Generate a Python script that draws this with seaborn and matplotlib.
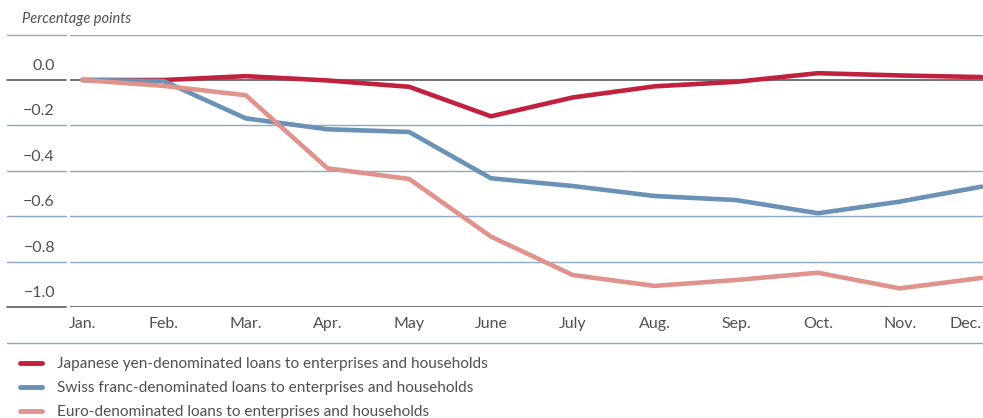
import numpy as np
import pandas as pd
import matplotlib
matplotlib.use('Agg')
import matplotlib.pyplot as plt
import matplotlib.transforms as mtransforms
from matplotlib.lines import Line2D
import seaborn as sns

MESES = ['Jan.', 'Feb.', 'Mar.', 'Apr.', 'May', 'June', 'July', 'Aug.', 'Sep.', 'Oct.', 'Nov.', 'Dec.']
YEN = [0.0, 0.0, 0.017, -0.002, -0.03, -0.16, -0.077, -0.028, -0.008, 0.03, 0.02, 0.013]
CHF = [0.0, -0.005, -0.169, -0.217, -0.229, -0.433, -0.467, -0.511, -0.529, -0.587, -0.536, -0.47]
EUR = [0.0, -0.026, -0.067, -0.389, -0.436, -0.69, -0.859, -0.907, -0.881, -0.849, -0.918, -0.872]
SERIES = ['Japanese yen-denominated loans to enterprises and households',
          'Swiss franc-denominated loans to enterprises and households',
          'Euro-denominated loans to enterprises and households']
COLORES = ['#C0213F', '#6A91B6', '#E0938C']
YTICKS = [0.0, -0.2, -0.4, -0.6, -0.8, -1.0]

# ── Datos en formato largo ─────────────────────────────────────
df = pd.DataFrame({
    'mes': list(range(len(MESES))) * 3,
    'valor': YEN + CHF + EUR,
    'serie': [SERIES[0]] * 12 + [SERIES[1]] * 12 + [SERIES[2]] * 12,
})

sns.set_style('white')
plt.rcParams['font.family'] = ['Lato', 'DejaVu Sans']
TXT = '#505050'
GRID = '#8BA8CA'
DARK = '#686868'

W, H = 983, 418
fig = plt.figure(figsize=(W / 100, H / 100), dpi=100)
ax = fig.add_axes([70 / W, 1 - 307 / H, 1 - 70 / W, (307 - 34.6) / H])

# ── Rejilla ───────────────────────────────────────────────────
trans = mtransforms.blended_transform_factory(fig.transFigure, ax.transData)
for v in [0.2, -0.2, -0.4, -0.6, -0.8]:
    ax.axhline(v, color=GRID, lw=1.0, zorder=1)
    ax.add_line(Line2D([7 / W, 66 / W], [v, v], transform=trans, color=GRID, lw=1.0, clip_on=False))
for v in [0.0, -1.0]:
    ax.axhline(v, color=DARK, lw=1.3, zorder=1)
    ax.add_line(Line2D([7 / W, 66 / W], [v, v], transform=trans, color=DARK, lw=1.3, clip_on=False))

sns.lineplot(data=df, x='mes', y='valor', hue='serie', hue_order=SERIES,
             palette=COLORES, linewidth=3.3, ax=ax, legend=False, zorder=3)

ax.set_xlim(-0.15, 11.02)
ax.set_ylim(-1.0, 0.2)
for s in ax.spines.values():
    s.set_visible(False)
ax.set_xlabel('')
ax.set_ylabel('')
ax.set_yticks([])
ax.set_xticks(range(len(MESES)))
ax.set_xticklabels(MESES, color=TXT, fontsize=11.5)
ax.tick_params(axis='x', direction='in', length=6, width=1.2, color=DARK, pad=7)
ax.get_xticklabels()[-1].set_ha('right')

# ── Etiquetas del eje y ───────────────────────────────────────
for v in YTICKS:
    etiqueta = f'{v:.1f}'.replace('-', '\u2212')
    ax.annotate(etiqueta, xy=(55 / W, v), xycoords=('figure fraction', 'data'),
                xytext=(0, 5), textcoords='offset points',
                ha='right', va='bottom', fontsize=11.5, color=TXT)

fig.text(22 / W, 1 - 19 / H, 'Percentage points', fontsize=10.5, style='italic',
         color=TXT, va='center', ha='left')

# ── Leyenda ───────────────────────────────────────────────────
fig.add_artist(Line2D([7 / W, 1.0], [1 - 343 / H] * 2, color=GRID, lw=1.0))
handles = [Line2D([], [], color=c, lw=3.5, solid_capstyle='round') for c in COLORES]
fig.legend(handles, SERIES, loc='upper left', bbox_to_anchor=(20 / W, 1 - 357 / H),
           frameon=False, fontsize=11.1, handlelength=1.43, handletextpad=0.97,
           labelspacing=0.66, borderaxespad=0, borderpad=0, labelcolor=TXT)

fig.savefig('out.png', dpi=100)
